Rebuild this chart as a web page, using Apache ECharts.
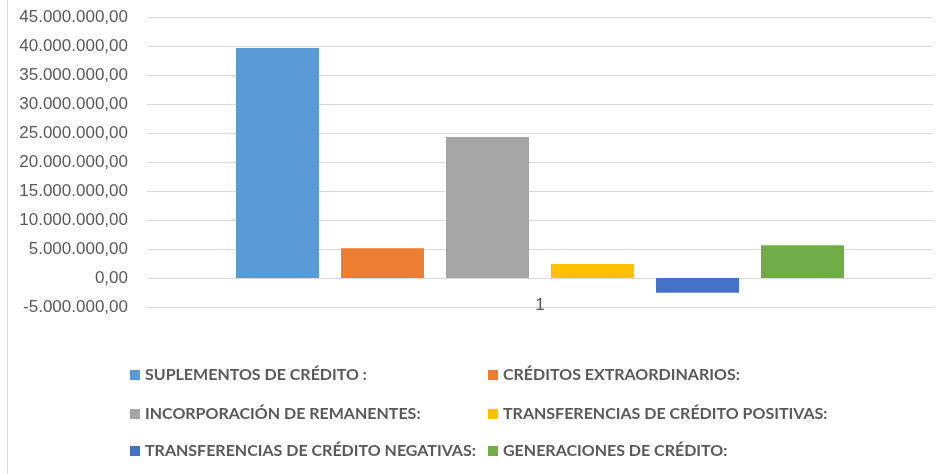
<!DOCTYPE html>
<html>
<head>
<meta charset="utf-8">
<script src="https://cdn.jsdelivr.net/npm/echarts@6/dist/echarts.min.js"></script>
<style>
html,body{margin:0;padding:0;background:#fff;}
#chart{width:944px;height:474px;}
</style>
</head>
<body>
<div id="chart"></div>
<script>
const categories = ['1'];
const seriesNames = [
  'SUPLEMENTOS DE CRÉDITO :',
  'CRÉDITOS EXTRAORDINARIOS:',
  'INCORPORACIÓN DE REMANENTES:',
  'TRANSFERENCIAS DE CRÉDITO POSITIVAS:',
  'TRANSFERENCIAS DE CRÉDITO NEGATIVAS:',
  'GENERACIONES DE CRÉDITO:'
];
const seriesValues = [
  [39650000],
  [5150000],
  [24300000],
  [2400000],
  [-2550000],
  [5650000]
];
const seriesColors = ['#5B9BD5', '#ED7D31', '#A5A5A5', '#FFC000', '#4472C4', '#70AD47'];

function fmt(v) {
  const neg = v < 0;
  const s = Math.abs(Math.round(v)).toString().replace(/\B(?=(\d{3})+(?!\d))/g, '.');
  return (neg ? '-' : '') + s + ',00';
}

const legendText = {fontFamily: 'Lato, sans-serif', fontWeight: 'bold', fontSize: 16, lineHeight: 20, color: '#595959'};
const legendPos = [[130, 365], [488, 365], [130, 404], [488, 404], [130, 441], [488, 441]];

const chart = echarts.init(document.getElementById('chart'), null, {renderer: 'canvas'});
chart.setOption({
  animation: false,
  backgroundColor: '#fff',
  graphic: [{type: 'line', shape: {x1: 7.5, y1: 0, x2: 7.5, y2: 474}, style: {stroke: '#d9d9d9', lineWidth: 1}}],
  grid: {left: 147, right: 11, top: 17, height: 290, containLabel: false},
  legend: seriesNames.map((name, i) => ({
    left: legendPos[i][0], top: legendPos[i][1], padding: 0,
    itemWidth: 10, itemHeight: 10, itemGap: 0, icon: 'rect',
    textStyle: legendText, data: [name]
  })),
  xAxis: {
    type: 'category',
    data: categories,
    axisLine: {show: true, lineStyle: {color: '#d9d9d9', width: 1}},
    axisTick: {show: false},
    axisLabel: {margin: -10, fontSize: 17, color: '#595959', fontFamily: 'Liberation Sans, Arial, sans-serif'}
  },
  yAxis: {
    type: 'value',
    min: -5000000,
    max: 45000000,
    interval: 5000000,
    axisLine: {show: false},
    axisTick: {show: false},
    splitLine: {lineStyle: {color: '#d9d9d9', width: 1}},
    axisLabel: {margin: 19, fontSize: 17, color: '#595959', fontFamily: 'Liberation Sans, Arial, sans-serif', formatter: fmt}
  },
  series: seriesNames.map((name, i) => ({
    name: name,
    type: 'bar',
    data: seriesValues[i],
    barWidth: 83,
    barGap: '26.5%',
    itemStyle: {color: seriesColors[i]}
  }))
});
</script>
</body>
</html>
